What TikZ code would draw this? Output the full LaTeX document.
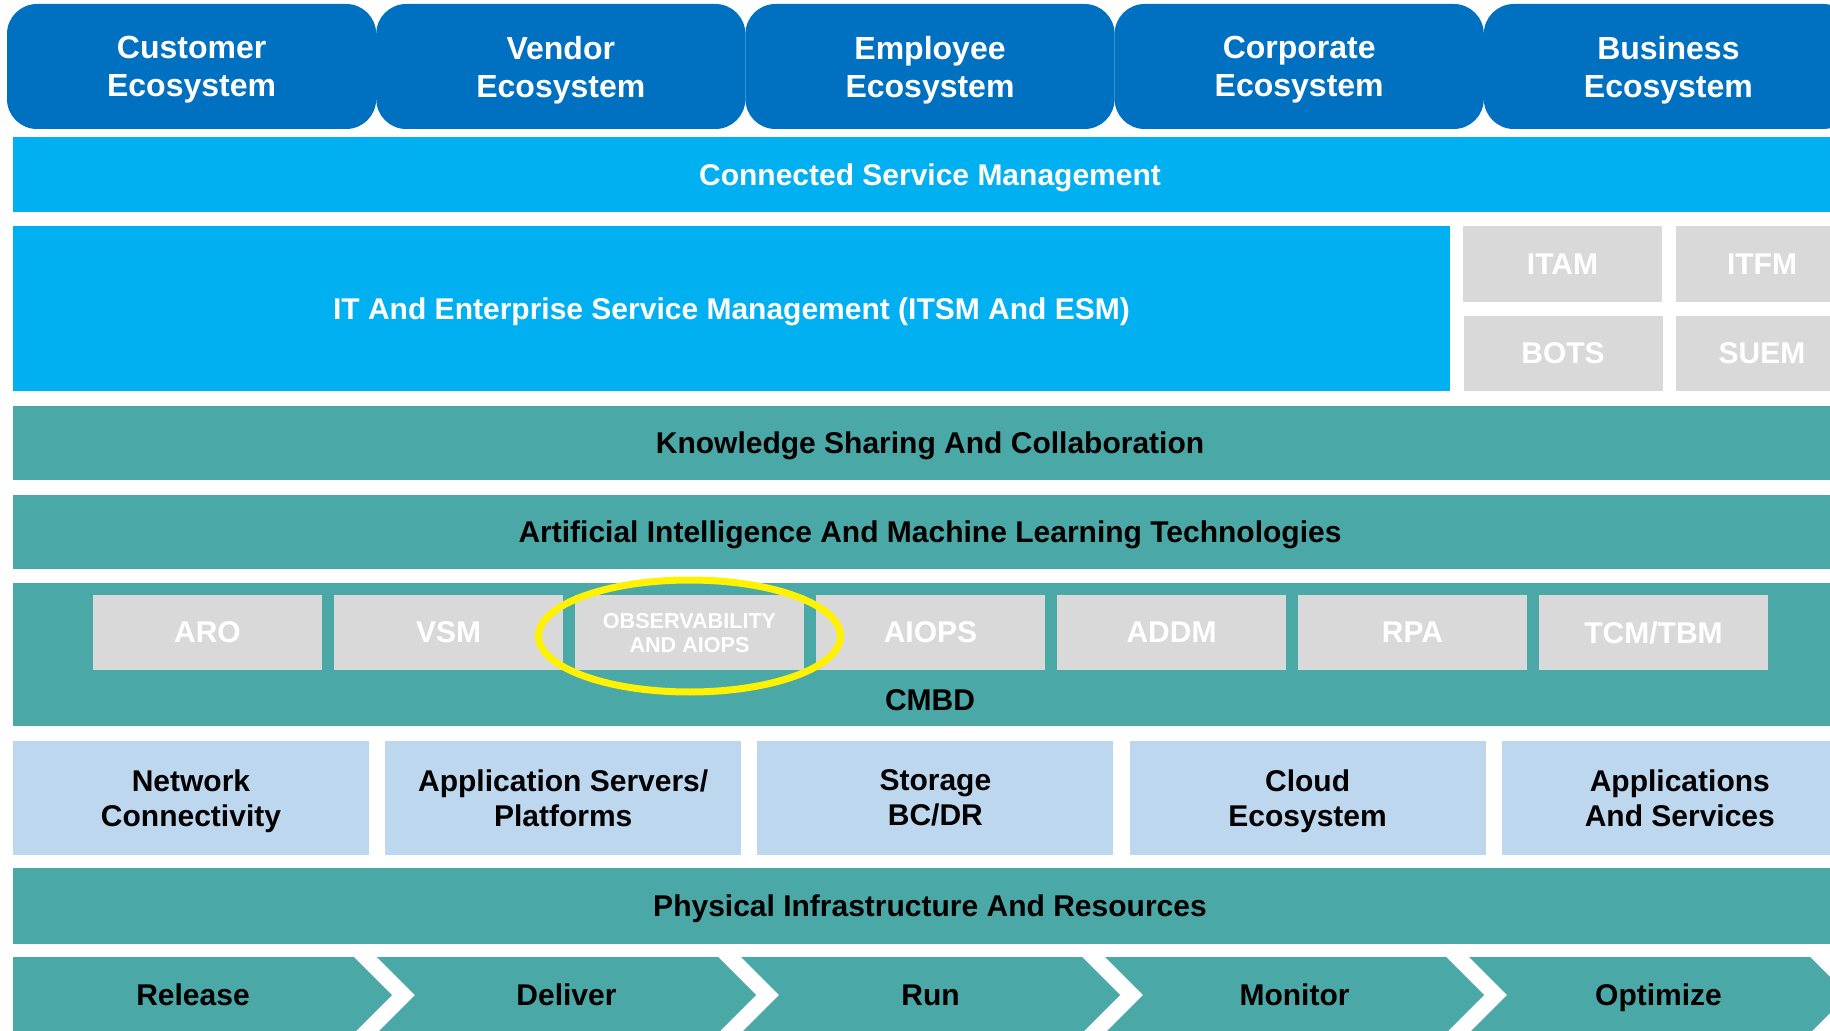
\documentclass[tikz,border=0pt]{standalone}
\usepackage{fontspec}
\setmainfont{Liberation Sans}
\usetikzlibrary{positioning}
\definecolor{ecoblue}{RGB}{0,112,192}
\definecolor{csmcyan}{RGB}{0,176,240}
\definecolor{layerteal}{RGB}{74,168,166}
\definecolor{tilegray}{RGB}{217,217,217}
\definecolor{infrablue}{RGB}{189,215,238}

\begin{document}
\begin{tikzpicture}[x=0.5pt,y=-0.5pt,
        every node/.style={inner sep=0pt,outer sep=0pt,align=center,text depth=0pt,
                    font=\bfseries\fontsize{15}{17.5}\selectfont},
        eco/.style={fill=ecoblue,text=white,rounded corners=15pt,
                    minimum width=184.6pt,minimum height=62.5pt,
                    font=\bfseries\fontsize{16}{19}\selectfont},
        band/.style={fill=layerteal,minimum width=917pt,minimum height=37pt},
        csm/.style={fill=csmcyan,text=white},
        tile/.style={fill=tilegray,text=white,minimum width=114.5pt,minimum height=37.5pt},
        infra/.style={fill=infrablue,minimum width=178pt,minimum height=57pt},
        stage/.style={fill=layerteal}]
        \useasboundingbox (0,0) rectangle (1830,1031);
        \clip (0,0) rectangle (1830,1031);
        % ecosystems along the top
        \node[eco] (cust) at (191.6,66.5) {Customer\\Ecosystem};
        \node[eco,right=0pt of cust] (vend) {Vendor\\Ecosystem};
        \node[eco,right=0pt of vend] (empl) {Employee\\Ecosystem};
        \node[eco,right=0pt of empl] (corp) {Corporate\\Ecosystem};
        \node[eco,right=0pt of corp] (busi) {Business\\Ecosystem};
        % service management layers
        \node[csm,minimum width=917pt,minimum height=37.5pt] (csmgmt) at (930,174.5) {Connected Service Management};
        \node[csm,minimum width=718.5pt,minimum height=82.5pt] (itsm) at (731.5,308.5) {IT And Enterprise Service Management (ITSM And ESM)};
        \node[tile,minimum width=99.5pt,minimum height=38pt] (itam) at (1562.5,264) {ITAM};
        \node[tile,minimum width=86pt,minimum height=38pt] (itfm) at (1762,264) {ITFM};
        \node[tile,minimum width=99.5pt] (bots) at (1563,353.5) {BOTS};
        \node[tile,minimum width=86pt] (suem) at (1762,353.5) {SUEM};
        \node[band] (ksc) at (930,443) {Knowledge Sharing And Collaboration};
        \node[band] (aiml) at (930,532) {Artificial Intelligence And Machine Learning Technologies};
        % CMBD layer with its tools
        \node[band,minimum height=71.5pt] (cmbd) at (930,654.5) {};
        \node (cmbdtxt) at (930,700) {CMBD};
        \node[tile] (aro) at (207.5,632.5) {ARO};
        \node[tile,right=6pt of aro] (vsm) {VSM};
        \node[tile,right=6pt of vsm,font=\bfseries\fontsize{10.8}{12}\selectfont] (obs) {OBSERVABILITY\\AND AIOPS};
        \node[tile,right=6pt of obs] (aiops) {AIOPS};
        \node[tile,right=6pt of aiops] (addm) {ADDM};
        \node[tile,right=6pt of addm] (rpa) {RPA};
        \node[tile,right=6pt of rpa] (tcm) {TCM/TBM};
        \draw[yellow,line width=3.5pt] ([yshift=-1.75pt]obs.center) ellipse [x radius=75.5pt,y radius=28pt];
        % infrastructure
        \node[infra] (net) at (191,798) {Network\\Connectivity};
        \node[infra,right=8.1pt of net] (apps) {Application Servers/\\Platforms};
        \node[infra,right=8.1pt of apps] (stor) {Storage\\BC/DR};
        \node[infra,right=8.1pt of stor] (cloud) {Cloud\\Ecosystem};
        \node[infra,right=8.1pt of cloud] (svcs) {Applications\\And Services};
        \node[band,minimum height=38pt] (phys) at (930,906) {Physical Infrastructure And Resources};
        % lifecycle chevrons
        \fill[stage] (13,957) -- (354,957) -- (392,995) -- (354,1033) -- (13,1033) -- cycle;
        \fill[stage] (377,957) -- (718,957) -- (756,995) -- (718,1033) -- (377,1033) -- (415,995) -- cycle;
        \fill[stage] (741,957) -- (1082,957) -- (1120,995) -- (1082,1033) -- (741,1033) -- (779,995) -- cycle;
        \fill[stage] (1105,957) -- (1446,957) -- (1484,995) -- (1446,1033) -- (1105,1033) -- (1143,995) -- cycle;
        \fill[stage] (1469,957) -- (1810,957) -- (1848,995) -- (1810,1033) -- (1469,1033) -- (1507,995) -- cycle;
        \node (rel) at (193,995) {Release};
        \node (dlv) at (566.5,995) {Deliver};
        \node (run) at (930.5,995) {Run};
        \node (mon) at (1294.5,995) {Monitor};
        \node (opt) at (1658.5,995) {Optimize};
    \end{tikzpicture}
\end{document}
